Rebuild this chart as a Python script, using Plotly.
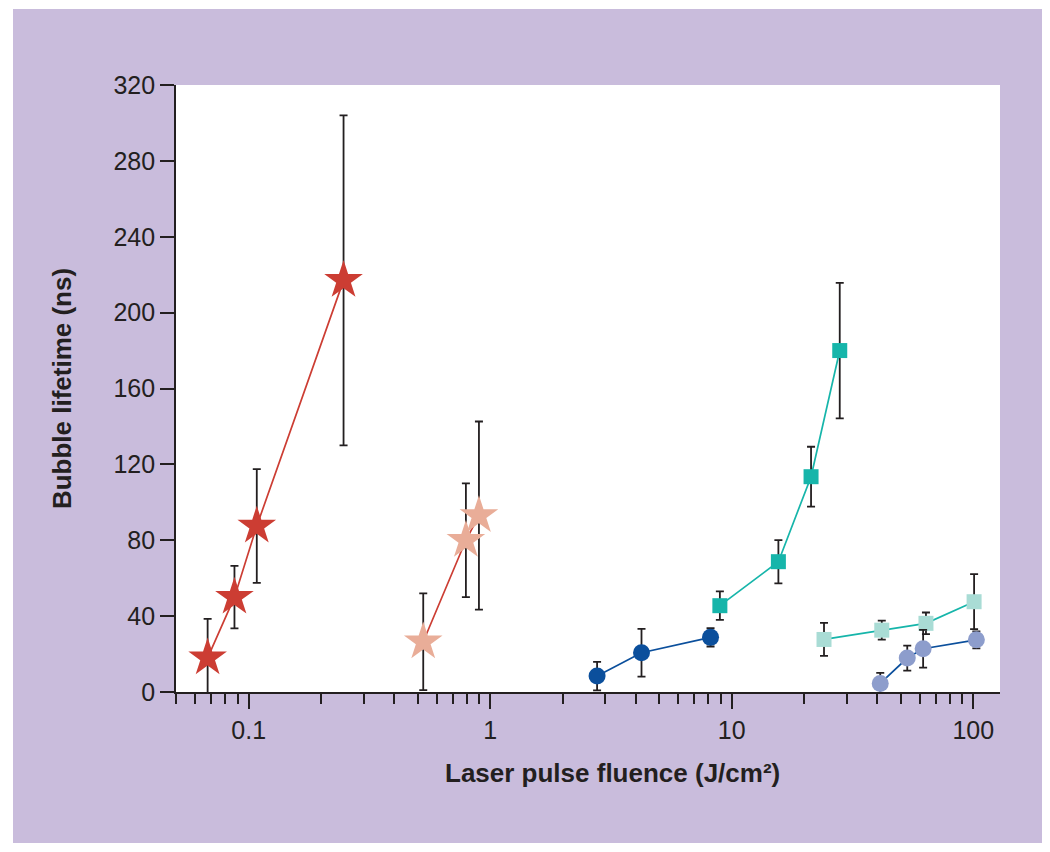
import plotly.graph_objects as go
import math

# Data
red_x = [0.0676, 0.0873, 0.108, 0.247]
red_y = [18, 50, 87.5, 217]
red_err = [20.5, 16.5, 30, 87]

pink_x = [0.528, 0.793, 0.898]
pink_y = [26.5, 80, 93]
pink_err = [25.5, 30, 49.6]

navy_x = [2.77, 4.23, 8.17]
navy_y = [8.4, 20.7, 28.8]
navy_err = [7.5, 12.6, 4.8]

teal_x = [8.93, 15.6, 21.3, 28.0]
teal_y = [45.5, 68.7, 113.5, 180]
teal_err = [7.5, 11.4, 15.8, 35.7]

lteal_x = [24.1, 41.8, 63.7, 100.8]
lteal_y = [27.7, 32.6, 36.2, 47.6]
lteal_err = [8.7, 5, 5.7, 14.5]

lblue_x = [41.2, 53.3, 62.0, 103.0]
lblue_y = [4.5, 17.9, 22.8, 27.5]
lblue_err = [5.6, 6.6, 10, 4.5]

x_major = [0.1, 1, 10, 100]
x_major_text = ["0.1", "1", "10", "100"]
x_minor = [0.05, 0.06, 0.07, 0.08, 0.09, 0.2, 0.3, 0.4, 0.5, 0.6, 0.7, 0.8, 0.9,
           2, 3, 4, 5, 6, 7, 8, 9, 20, 30, 40, 50, 60, 70, 80, 90]
y_ticks = [0, 40, 80, 120, 160, 200, 240, 280, 320]

x_title = "<b>Laser pulse fluence (J/cm²)</b>"
y_title = "<b>Bubble lifetime (ns)</b>"

ERR = "#231f20"
PURPLE = "#c9bcdc"

def series(x, y, err, mcolor, lcolor, symbol, size):
    return go.Scatter(
        x=x, y=y, mode="lines+markers",
        line=dict(color=lcolor, width=1.7),
        marker=dict(color=mcolor, symbol=symbol, size=size, line=dict(width=0)),
        error_y=dict(type="data", array=err, visible=True, color=ERR,
                     thickness=1.8, width=4),
        showlegend=False, cliponaxis=False,
    )

fig = go.Figure()
fig.add_trace(series(red_x, red_y, red_err, "#cc3d33", "#cc3d33", "star", 29))
fig.add_trace(series(pink_x, pink_y, pink_err, "#e9ad98", "#cc3d33", "star", 29))
fig.add_trace(series(navy_x, navy_y, navy_err, "#0b4f9c", "#0b4f9c", "circle", 17))
fig.add_trace(series(teal_x, teal_y, teal_err, "#16b5aa", "#16b5aa", "square", 15))
fig.add_trace(series(lteal_x, lteal_y, lteal_err, "#a9dcd5", "#16b5aa", "square", 15))
fig.add_trace(series(lblue_x, lblue_y, lblue_err, "#8d9dcc", "#0b4f9c", "circle", 17))

# page body has an 8px margin
OFF = 8
W, H = 1042, 844
ml, mr, mt, mb = 176 - OFF, 50, 85 - OFF, 160
pw, ph = W - ml - mr, H - mt - mb

def px2paper_x(px):
    return (px - OFF - ml) / pw

def px2paper_y(py):
    return (H - mb - (py - OFF)) / ph

fig.add_shape(type="rect", xref="paper", yref="paper",
              x0=px2paper_x(13), x1=px2paper_x(1042),
              y0=px2paper_y(843), y1=px2paper_y(9),
              fillcolor=PURPLE, line=dict(width=0), layer="below")
fig.add_shape(type="rect", xref="paper", yref="paper",
              x0=0, x1=1, y0=0, y1=1,
              fillcolor="white", line=dict(width=0), layer="below")

fig.add_annotation(text=x_title, xref="paper", yref="paper",
                   x=px2paper_x(612), y=px2paper_y(773),
                   xanchor="center", yanchor="middle", showarrow=False,
                   font=dict(size=26))

font = "Liberation Sans, Arial, Helvetica, sans-serif"

fig.update_layout(
    width=W, height=H,
    margin=dict(l=ml, r=mr, t=mt, b=mb),
    paper_bgcolor="white",
    plot_bgcolor="white",
    font=dict(family=font, color="#231f20", size=25),
    xaxis=dict(
        type="log", range=[math.log10(0.05), 2.1107],
        tickmode="array", tickvals=x_major, ticktext=x_major_text,
        ticks="outside", ticklen=15, tickwidth=1.7, tickcolor="#231f20",
        minor=dict(tickmode="array", tickvals=x_minor, ticks="outside",
                   ticklen=10, tickwidth=1.7, tickcolor="#231f20", showgrid=False),
        showline=True, linecolor="#231f20", linewidth=1.7,
        showgrid=False, zeroline=False,
        tickfont=dict(size=25),
    ),
    yaxis=dict(
        range=[0, 320], tickmode="array", tickvals=y_ticks,
        ticks="outside", ticklen=14, tickwidth=1.7, tickcolor="#231f20",
        showline=True, linecolor="#231f20", linewidth=1.7,
        showgrid=False, zeroline=False,
        tickfont=dict(size=25),
        title=dict(text=y_title, font=dict(size=26), standoff=34),
    ),
)

fig.write_html("out.html")
